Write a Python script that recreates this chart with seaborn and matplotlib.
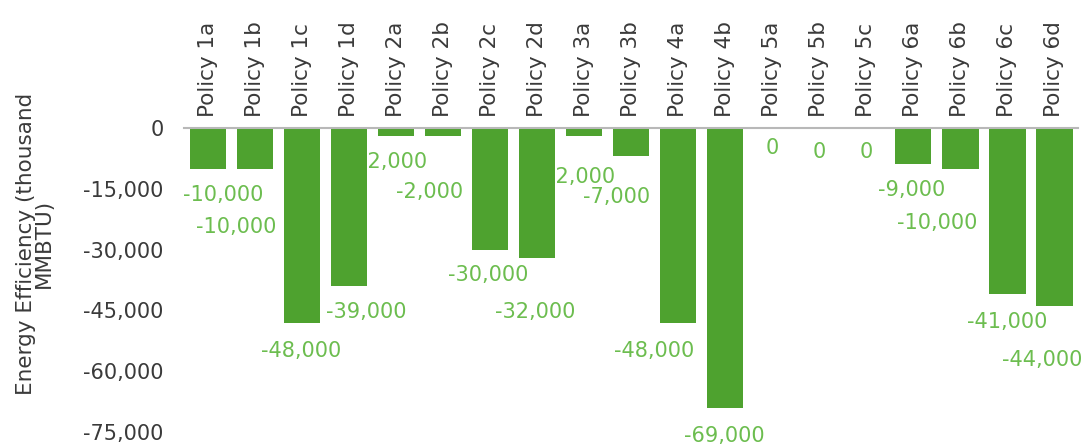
import pandas as pd
import matplotlib
matplotlib.use("Agg")
import matplotlib.pyplot as plt
import seaborn as sns

sns.set_style("white")
plt.rcParams['font.family'] = ['DejaVu Sans']

# Data
policies = ["Policy 1a", "Policy 1b", "Policy 1c", "Policy 1d",
            "Policy 2a", "Policy 2b", "Policy 2c", "Policy 2d",
            "Policy 3a", "Policy 3b", "Policy 4a", "Policy 4b",
            "Policy 5a", "Policy 5b", "Policy 5c",
            "Policy 6a", "Policy 6b", "Policy 6c", "Policy 6d"]
savings = [-10000, -10000, -48000, -39000,
           -2000, -2000, -30000, -32000,
           -2000, -7000, -48000, -69000,
           0, 0, 0,
           -9000, -10000, -41000, -44000]
y_ticks = [0, -15000, -30000, -45000, -60000, -75000]

# data label nudges (pixels, dx / dy below bar end)
label_dx = [15, -19, -1, 17, -2, -13, -2, -2, -3, -15, -24, -1, 0, 0, 0, -2, -23, 0, -12]
label_dy = [26, 58, 28, 26, 26, 56, 25, 54, 41, 41, 28, 28, 20, 24, 24, 26, 54, 28, 54]

df = pd.DataFrame({"Policy": policies, "Savings": savings})

bar_green = "#4ea22f"
label_green = "#6cbd4f"
text_col = "#3a3a3a"

fig = plt.figure(figsize=(10.9, 4.48), dpi=100)
ax = fig.add_axes([0.169, 0.0357, 0.820, 0.6786])

sns.barplot(data=df, x="Policy", y="Savings", color=bar_green,
            saturation=1, width=0.77, linewidth=0, ax=ax)

for i, v in enumerate(savings):
    ax.annotate(f"{v:,}", xy=(i, v), xytext=(label_dx[i], -label_dy[i]),
                textcoords="offset pixels", ha="center", va="center",
                fontsize=15, color=label_green, annotation_clip=False,
                zorder=0.5)

ax.set_ylim(-75000, 0)
ax.set_xlim(-0.5, len(policies) - 0.5)
ax.set_yticks(y_ticks)
ax.set_yticklabels([f"{t:,}" for t in y_ticks])
ax.tick_params(axis="y", length=0, pad=15, labelsize=15, labelcolor=text_col)

ax.xaxis.tick_top()
ax.tick_params(axis="x", length=0, pad=8, labelsize=15.5, labelcolor=text_col,
               labelrotation=90)
ax.set_xlabel("")
ax.set_ylabel("Energy Efficiency (thousand\nMMBTU)", fontsize=15.5,
              color=text_col, linespacing=0.85)
ax.yaxis.set_label_coords(-0.146, 0.62)

for side in ["left", "right", "bottom"]:
    ax.spines[side].set_visible(False)
ax.spines["top"].set_color("#b8b8b8")
ax.spines["top"].set_linewidth(1.5)

fig.savefig("out.png", dpi=100)
